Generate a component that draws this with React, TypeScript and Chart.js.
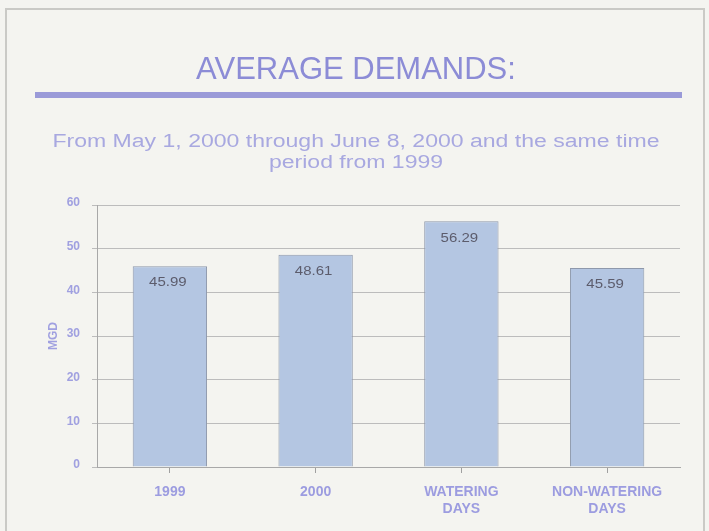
import React, { useEffect, useRef } from "react";
import { Chart, registerables } from "chart.js";

Chart.register(...registerables);

const categories: (string | string[])[] = ["1999", "2000", ["WATERING", "DAYS"], ["NON-WATERING", "DAYS"]];
const demandValues: number[] = [45.99, 48.61, 56.29, 45.59];
const valueLabels: string[] = ["45.99", "48.61", "56.29", "45.59"];
const titleText = "AVERAGE DEMANDS:";
const subtitleLines: string[] = ["From May 1, 2000 through June 8, 2000 and the same time", "period from 1999"];
const yAxisTitle = "MGD";

const FONT = "'Liberation Sans', Arial, sans-serif";

function stretchedText(ctx: any, text: string, cx: number, y: number, sx: number) {
  ctx.save();
  ctx.translate(cx, y);
  ctx.scale(sx, 1);
  ctx.fillText(text, 0, 0);
  ctx.restore();
}

const decorPlugin = {
  id: "decor",
  beforeDraw(chart: any) {
    const ctx = chart.ctx;
    ctx.save();
    ctx.fillStyle = "#f4f4f0";
    ctx.fillRect(0, 0, chart.width, chart.height);
    ctx.strokeStyle = "#cacac6";
    ctx.lineWidth = 2;
    ctx.strokeRect(6, 9, chart.width - 11, chart.height);
    ctx.fillStyle = "#9a9ad8";
    ctx.fillRect(35, 92, 647, 6);
    // subtitle
    ctx.fillStyle = "#a8a8e0";
    ctx.font = `18px ${FONT}`;
    ctx.textAlign = "center";
    ctx.textBaseline = "middle";
    const cx = 356;
    stretchedText(ctx, subtitleLines[0], cx, 142, 1.28);
    stretchedText(ctx, subtitleLines[1], cx, 163, 1.28);
    ctx.restore();
  },
  afterDatasetsDraw(chart: any) {
    const ctx = chart.ctx;
    const meta = chart.getDatasetMeta(0);
    ctx.save();
    ctx.font = `12px ${FONT}`;
    ctx.fillStyle = "#5c5c6c";
    ctx.textAlign = "center";
    ctx.textBaseline = "middle";
    meta.data.forEach((bar: any, i: number) => {
      stretchedText(ctx, valueLabels[i], bar.x - 2, bar.y + 17, 1.25);
    });
    ctx.restore();
  },
};

export default function App() {
  const ref = useRef<HTMLCanvasElement | null>(null);
  useEffect(() => {
    if (!ref.current) return;
    const chart = new Chart(ref.current, {
      type: "bar",
      data: {
        labels: categories,
        datasets: [
          {
            data: demandValues,
            backgroundColor: "#b4c6e2",
            borderColor: "#8e98ab",
            borderWidth: 1,
            barPercentage: 0.51,
            categoryPercentage: 1,
          },
        ],
      },
      options: {
        animation: false,
        responsive: false,
        devicePixelRatio: 1,
        layout: { padding: { left: 32, right: 29, top: 0, bottom: 0 } },
        plugins: {
          legend: { display: false },
          tooltip: { enabled: false },
          title: {
            display: true,
            text: titleText,
            color: "#8c8cd6",
            font: { family: FONT, size: 31, weight: "normal", lineHeight: 1.2 },
            padding: { top: 51.5, bottom: 116.3 },
          },
        },
        scales: {
          x: {
            afterFit: (scale: any) => {
              scale.height = 64;
            },
            grid: { offset: false, drawOnChartArea: false, tickLength: 6, color: "#a0a0a0" },
            border: { display: true, color: "#a8a8a8" },
            ticks: {
              color: "#9c9ce0",
              font: { family: FONT, size: 14, weight: "bold", lineHeight: 1.2 },
              padding: 11,
              maxRotation: 0,
              autoSkip: false,
            },
          },
          y: {
            min: 0,
            max: 60,
            afterFit: (scale: any) => {
              scale.width = 65;
            },
            ticks: {
              stepSize: 10,
              color: "#a0a0e0",
              font: { family: FONT, size: 12, weight: "bold" },
              padding: 12,
              labelOffset: -2,
            },
            grid: { color: "#bcbcbc", tickLength: 5, lineWidth: 1 },
            border: { display: true, color: "#a8a8a8" },
            title: {
              display: true,
              text: yAxisTitle,
              color: "#a0a0e0",
              font: { family: FONT, size: 12, weight: "bold" },
              padding: { top: 14.8, bottom: 0 },
            },
          },
        },
      },
      plugins: [decorPlugin],
    });
    return () => chart.destroy();
  }, []);
  return (
    <div style={{ position: "fixed", left: 0, top: 0, width: 709, height: 531 }}>
      <canvas ref={ref} width={709} height={531} style={{ display: "block", width: 709, height: 531 }} />
    </div>
  );
}
